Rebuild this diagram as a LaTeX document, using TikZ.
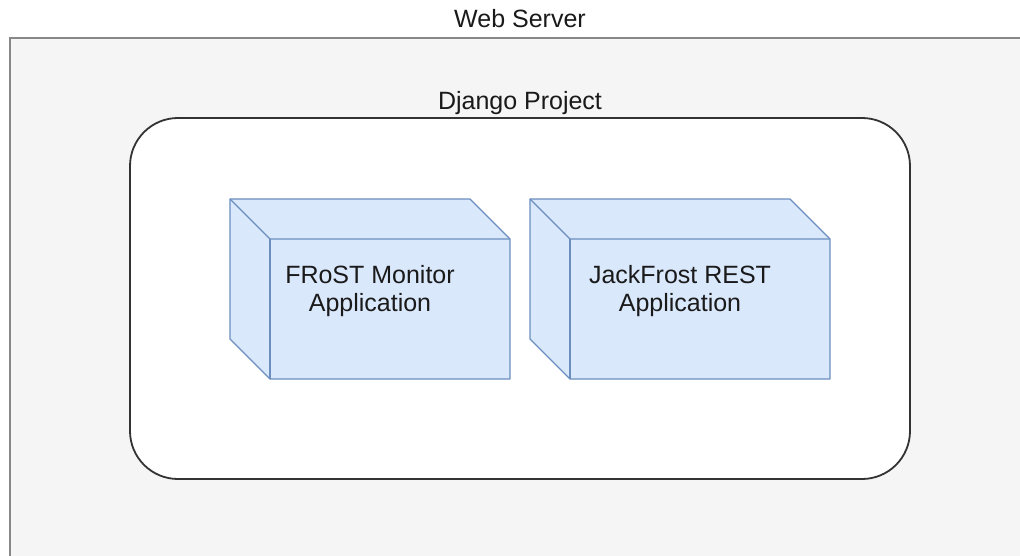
\documentclass[tikz,border=0pt]{standalone}
\usepackage{fontspec}
\setmainfont{Liberation Sans}
\definecolor{outerfill}{HTML}{F5F5F5}
\definecolor{outerdraw}{HTML}{888888}
\definecolor{projdraw}{HTML}{333333}
\definecolor{cubefill}{HTML}{DAE8FC}
\definecolor{cubedraw}{HTML}{6C8EBF}
\definecolor{txt}{HTML}{1A1A1A}
\tikzset{
  lbl/.style={font=\fontsize{25}{28}\selectfont, text=txt, inner sep=0pt},
  cubeshape/.style={fill=cubefill, draw=cubedraw, line width=1.3pt, line join=round},
  cubeedge/.style={draw=cubedraw, line width=1.3pt},
}
\begin{document}
\begin{tikzpicture}[x=1pt,y=-1pt]
\useasboundingbox (0,0) rectangle (1020,556);
\fill[white] (0,0) rectangle (1020,556);
\begin{scope}
\clip (0,0) rectangle (1020,556);
\draw[fill=outerfill, draw=outerdraw, line width=1.6pt] (10,38) rectangle (1040,580);
\end{scope}
\node[lbl, anchor=base] (web) at (520,28) {Web Server};
\draw[fill=white, draw=projdraw, line width=1.8pt, rounded corners=48pt] (130,118) rectangle (910,479);
\node[lbl, anchor=base] (django) at (520,110) {Django Project};
% cube 1
\path[cubeshape] (230,199) -- (470,199) -- (510,239) -- (510,379) -- (270,379) -- (230,339) -- cycle;
\draw[cubeedge] (230,199) -- (270,239) -- (510,239);
\draw[cubeedge] (270,239) -- (270,379);
\node[lbl, align=center] (frost) at (370,291) {FRoST Monitor\\Application};
% cube 2
\path[cubeshape] (530,199) -- (790,199) -- (830,239) -- (830,379) -- (570,379) -- (530,339) -- cycle;
\draw[cubeedge] (530,199) -- (570,239) -- (830,239);
\draw[cubeedge] (570,239) -- (570,379);
\node[lbl, align=center] (jack) at (680,291) {JackFrost REST\\Application};
\end{tikzpicture}
\end{document}
